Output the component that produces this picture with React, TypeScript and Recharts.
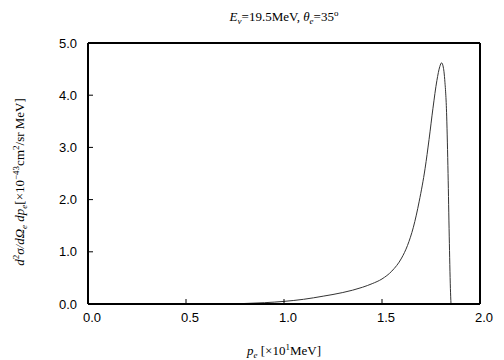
import React from "react";
import { LineChart, Line, XAxis, YAxis, Label } from "recharts";

const pe = [0, 0.3, 0.6, 0.72, 0.8, 0.9, 1.0, 1.1, 1.2, 1.3, 1.4, 1.45, 1.5, 1.55, 1.6, 1.63, 1.66, 1.69, 1.72, 1.74, 1.76, 1.78, 1.795, 1.804, 1.81, 1.82, 1.83, 1.837, 1.843, 1.849, 1.852];
const xsec = [0, 0, 0, 0, 0.01, 0.025, 0.05, 0.09, 0.15, 0.22, 0.32, 0.39, 0.48, 0.63, 0.88, 1.12, 1.47, 1.97, 2.6, 3.15, 3.75, 4.28, 4.55, 4.62, 4.58, 4.3, 3.6, 2.5, 1.3, 0.3, 0];
const xTicks = [0, 0.5, 1.0, 1.5, 2.0];
const yTicks = [0, 1, 2, 3, 4, 5];

const data = pe.map((p, i) => ({ p, v: xsec[i] }));

const tickFont = { fontFamily: "Liberation Sans, Arial, sans-serif", fontSize: 13, fill: "#000" };
const serif = "Liberation Serif, Times New Roman, serif";

const TitleLabel = (props: any) => {
  const vb = props.viewBox || {};
  const cx = vb.x + vb.width / 2;
  return (
    <text x={cx} y={21} textAnchor="middle" fontFamily={serif} fontSize={13} fill="#000">
      <tspan fontStyle="italic">E</tspan>
      <tspan fontStyle="italic" fontSize={9} dy={3}>ν</tspan>
      <tspan dy={-3}>=19.5MeV,  </tspan>
      <tspan fontStyle="italic">θ</tspan>
      <tspan fontStyle="italic" fontSize={9} dy={3}>e</tspan>
      <tspan dy={-3}>=35</tspan>
      <tspan fontSize={9} dy={-5}>o</tspan>
    </text>
  );
};

const XLabel = (props: any) => {
  const vb = props.viewBox || {};
  const cx = vb.x + vb.width / 2;
  return (
    <text x={cx} y={355} textAnchor="middle" fontFamily={serif} fontSize={13} fill="#000">
      <tspan fontStyle="italic">p</tspan>
      <tspan fontStyle="italic" fontSize={9} dy={3}>e</tspan>
      <tspan dy={-3}> [×10</tspan>
      <tspan fontSize={9} dy={-5}>1</tspan>
      <tspan dy={5}>MeV]</tspan>
    </text>
  );
};

const YLabel = () => {
  const x = 24;
  const y = 182;
  return (
    <text x={x} y={y} transform={`rotate(-90 ${x} ${y})`} textAnchor="middle" fontFamily={serif} fontSize={13} fill="#000">
      <tspan fontStyle="italic">d</tspan>
      <tspan fontSize={9} dy={-5}>2</tspan>
      <tspan fontStyle="italic" dy={5}>σ/d</tspan>
      <tspan fontStyle="italic">Ω</tspan>
      <tspan fontStyle="italic" fontSize={9} dy={3}>e</tspan>
      <tspan fontStyle="italic" dy={-3}> dp</tspan>
      <tspan fontStyle="italic" fontSize={9} dy={3}>e</tspan>
      <tspan dy={-3}>[×10</tspan>
      <tspan fontSize={9} dy={-5}>−43</tspan>
      <tspan dy={5}>cm</tspan>
      <tspan fontSize={9} dy={-5}>2</tspan>
      <tspan dy={5}>/sr MeV]</tspan>
    </text>
  );
};

export default function App() {
  return (
    <div style={{ position: "absolute", left: 0, top: 0, width: 504, height: 360, background: "#fff" }}>
      <LineChart width={504} height={360} data={data} margin={{ top: 0, right: 0, bottom: 0, left: 0 }}>
        <XAxis
          dataKey="p"
          type="number"
          domain={[0, 2]}
          ticks={xTicks}
          tickFormatter={(v: number) => v.toFixed(1)}
          height={56}
          tickSize={-5}
          tickMargin={14}
          tick={{ ...tickFont, dx: 4 }}
          axisLine={{ stroke: "#000", strokeWidth: 2 }}
          tickLine={{ stroke: "#000" }}
          interval={0}
          allowDataOverflow
        >
          <Label content={<XLabel />} />
        </XAxis>
        <XAxis
          xAxisId="top"
          orientation="top"
          type="number"
          domain={[0, 2]}
          ticks={xTicks}
          height={43}
          tickSize={-5}
          tick={false}
          axisLine={{ stroke: "#000", strokeWidth: 2 }}
          tickLine={{ stroke: "#000" }}
          interval={0}
        >
          <Label content={<TitleLabel />} />
        </XAxis>
        <YAxis
          type="number"
          domain={[0, 5]}
          ticks={yTicks}
          tickFormatter={(v: number) => v.toFixed(1)}
          width={88}
          tickSize={-5}
          tickMargin={16}
          tick={tickFont}
          axisLine={{ stroke: "#000", strokeWidth: 2 }}
          tickLine={{ stroke: "#000" }}
          interval={0}
        >
          <Label content={<YLabel />} />
        </YAxis>
        <YAxis
          yAxisId="right"
          orientation="right"
          type="number"
          domain={[0, 5]}
          ticks={yTicks}
          width={24}
          tickSize={-5}
          tick={false}
          axisLine={{ stroke: "#000", strokeWidth: 2 }}
          tickLine={{ stroke: "#000" }}
          interval={0}
        />
        <Line
          type="monotone"
          dataKey="v"
          stroke="#333"
          strokeWidth={1}
          dot={false}
          isAnimationActive={false}
        />
      </LineChart>
    </div>
  );
}
